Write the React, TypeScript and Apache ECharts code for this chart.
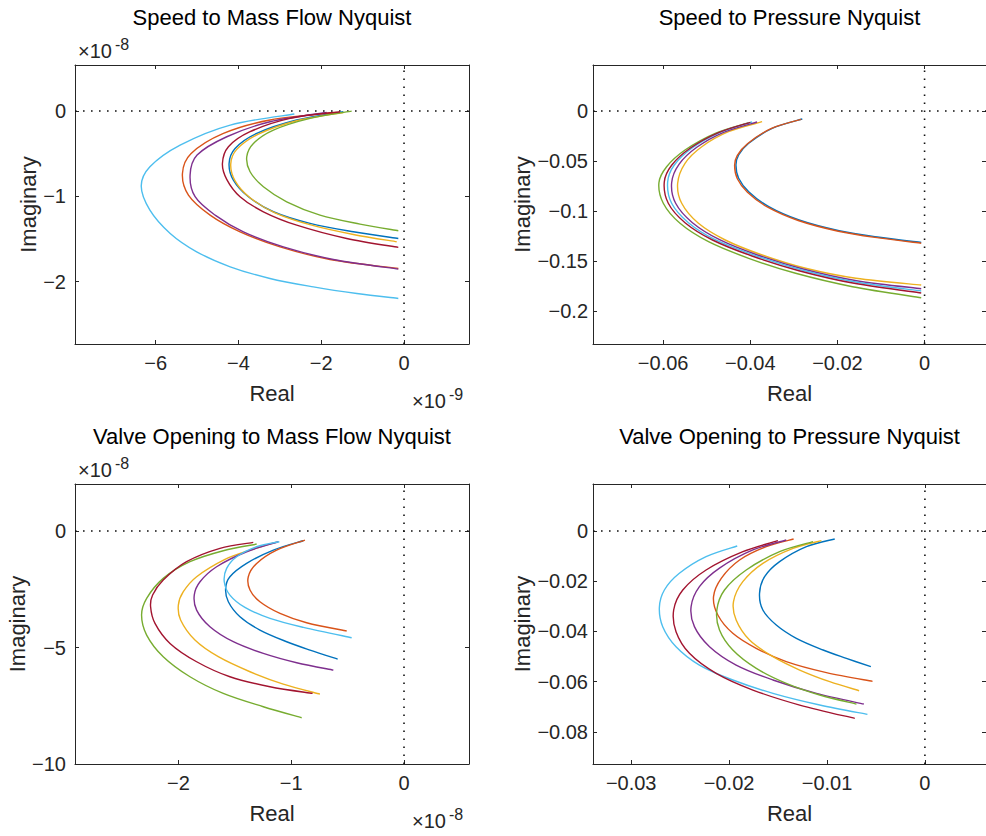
import React, { useEffect, useRef } from "react";
import * as echarts from "echarts";

const FONT = "'Liberation Sans', Arial, Helvetica, sans-serif";
const AX = "#262626";
const COLORS = ["#0072BD", "#D95319", "#EDB120", "#7E2F8E", "#77AC30", "#4DBEEE", "#A2142F"];
const SERIES_NAMES = ["Case 1", "Case 2", "Case 3", "Case 4", "Case 5", "Case 6", "Case 7"];

// ---------- Speed to Mass Flow Nyquist (Real x1e-9, Imaginary x1e-8) ----------
const SMF_BLUE = [[-1.466,-0.008],[-2.593,-0.105],[-3.559,-0.262],[-4.082,-0.438],[-4.227,-0.614],[-4.123,-0.809],[-3.76,-1.004],[-3.157,-1.18],[-2.271,-1.317],[-1.225,-1.415],[-0.138,-1.493]];
const SMF_ORANGE = [[-1.627,-0.016],[-3.237,-0.105],[-4.364,-0.262],[-5.15,-0.5],[-5.354,-0.731],[-5.209,-0.985],[-4.686,-1.219],[-3.961,-1.415],[-2.996,-1.591],[-1.788,-1.739],[-0.138,-1.845]];
const SMF_YELLOW = [[-1.466,-0.016],[-2.593,-0.113],[-3.519,-0.27],[-4.042,-0.449],[-4.187,-0.621],[-4.083,-0.817],[-3.72,-1.016],[-3.116,-1.192],[-2.231,-1.337],[-1.225,-1.446],[-0.178,-1.532]];
const SMF_PURPLE = [[-1.868,-0.016],[-3.237,-0.125],[-4.283,-0.301],[-5.0,-0.516],[-5.169,-0.75],[-5.048,-1.004],[-4.565,-1.219],[-3.881,-1.415],[-2.915,-1.591],[-1.707,-1.739],[-0.138,-1.852]];
const SMF_GREEN = [[-1.265,0],[-2.27,-0.086],[-3.156,-0.223],[-3.639,-0.379],[-3.8,-0.535],[-3.72,-0.711],[-3.398,-0.887],[-2.835,-1.063],[-2.03,-1.219],[-1.063,-1.325],[-0.138,-1.403]];
const SMF_LIGHTBLUE = [[-2.65,-0.035],[-4.2,-0.164],[-5.41,-0.399],[-6.14,-0.653],[-6.35,-0.879],[-6.14,-1.161],[-5.65,-1.434],[-5.01,-1.649],[-4.2,-1.825],[-3.24,-1.962],[-2.19,-2.06],[-1.14,-2.138],[-0.138,-2.196]];
const SMF_DARKRED = [[-1.547,-0.008],[-2.754,-0.086],[-3.72,-0.242],[-4.243,-0.418],[-4.388,-0.614],[-4.284,-0.8],[-3.962,-1.004],[-3.398,-1.18],[-2.593,-1.337],[-1.386,-1.493],[-0.138,-1.598]];
const SMF_XRANGE = [-7.95, 1.57];
const SMF_YRANGE = [-2.73, 0.54];
const SMF_XTICKS = [-6, -4, -2, 0];
const SMF_YTICKS = [-2, -1, 0];

// ---------- Speed to Pressure Nyquist ----------
const SP_BLUE = [[-0.02806,-0.008],[-0.03498,-0.0173],[-0.04036,-0.0323],[-0.04267,-0.044],[-0.04329,-0.054],[-0.04267,-0.0673],[-0.04036,-0.0807],[-0.03575,-0.0957],[-0.0288,-0.109],[-0.01961,-0.1197],[-0.01038,-0.1263],[-0.00077,-0.1315]];
const SP_ORANGE = [[-0.0283,-0.0083],[-0.03525,-0.0177],[-0.04065,-0.0327],[-0.04297,-0.0443],[-0.0436,-0.0543],[-0.04297,-0.0677],[-0.04065,-0.0812],[-0.036,-0.0962],[-0.029,-0.1095],[-0.0198,-0.1202],[-0.0105,-0.1269],[-0.00077,-0.1322]];
const SP_YELLOW = [[-0.03729,-0.0107],[-0.045,-0.0207],[-0.05113,-0.0357],[-0.05498,-0.0523],[-0.05667,-0.0723],[-0.05574,-0.0923],[-0.0519,-0.1123],[-0.04575,-0.129],[-0.03729,-0.144],[-0.02729,-0.1573],[-0.01576,-0.1673],[-0.00077,-0.174]];
const SP_PURPLE = [[-0.03844,-0.011],[-0.04613,-0.0213],[-0.05228,-0.0363],[-0.05636,-0.0533],[-0.05805,-0.0717],[-0.05713,-0.0923],[-0.05328,-0.1117],[-0.04705,-0.1287],[-0.03837,-0.144],[-0.02791,-0.158],[-0.01561,-0.1697],[-0.00077,-0.1777]];
const SP_GREEN = [[-0.04037,-0.0117],[-0.04805,-0.0223],[-0.05498,-0.039],[-0.0592,-0.0557],[-0.06097,-0.0717],[-0.05997,-0.0923],[-0.05613,-0.1123],[-0.04959,-0.1307],[-0.04037,-0.1473],[-0.0296,-0.1623],[-0.01653,-0.1757],[-0.00077,-0.1867]];
const SP_LIGHTBLUE = [[-0.0396,-0.011],[-0.0469,-0.0213],[-0.05328,-0.0367],[-0.05744,-0.054],[-0.05897,-0.071],[-0.05805,-0.0923],[-0.0542,-0.1117],[-0.04806,-0.1287],[-0.03898,-0.1443],[-0.02837,-0.1587],[-0.01576,-0.171],[-0.00077,-0.18]];
const SP_DARKRED = [[-0.03998,-0.0113],[-0.04729,-0.0217],[-0.05382,-0.0373],[-0.05805,-0.0543],[-0.05974,-0.071],[-0.05882,-0.0923],[-0.05498,-0.1117],[-0.04867,-0.129],[-0.0396,-0.145],[-0.02883,-0.1597],[-0.01615,-0.1723],[-0.00077,-0.182]];
const SP_XRANGE = [-0.0761, 0.0141];
const SP_YRANGE = [-0.233, 0.046];
const SP_XTICKS = [-0.06, -0.04, -0.02, 0];
const SP_YTICKS = [-0.2, -0.15, -0.1, -0.05, 0];

// ---------- Valve Opening to Mass Flow Nyquist (Real x1e-8, Imaginary x1e-8) ----------
const VMF_BLUE = [[-0.893,-0.415],[-1.158,-0.816],[-1.395,-1.388],[-1.543,-1.961],[-1.581,-2.461],[-1.557,-3.034],[-1.454,-3.678],[-1.277,-4.25],[-1.04,-4.751],[-0.833,-5.109],[-0.588,-5.495]];
const VMF_ORANGE = [[-0.878,-0.387],[-1.129,-0.816],[-1.306,-1.388],[-1.38,-1.961],[-1.365,-2.533],[-1.277,-3.034],[-1.099,-3.535],[-0.863,-3.935],[-0.508,-4.293]];
const VMF_YELLOW = [[-1.129,-0.472],[-1.365,-0.816],[-1.587,-1.216],[-1.838,-1.961],[-1.956,-2.605],[-2.0,-3.177],[-1.98,-3.821],[-1.853,-4.68],[-1.646,-5.395],[-1.365,-6.039],[-1.07,-6.569],[-0.745,-6.998]];
const VMF_PURPLE = [[-1.114,-0.458],[-1.395,-0.888],[-1.661,-1.532],[-1.808,-2.175],[-1.859,-2.748],[-1.838,-3.392],[-1.72,-4.107],[-1.513,-4.751],[-1.247,-5.252],[-0.951,-5.653],[-0.626,-5.968]];
const VMF_GREEN = [[-1.306,-0.558],[-1.602,-0.845],[-1.897,-1.316],[-2.134,-2.032],[-2.281,-2.891],[-2.326,-3.606],[-2.281,-4.465],[-2.134,-5.395],[-1.897,-6.254],[-1.602,-6.97],[-1.247,-7.542],[-0.907,-8.014]];
const VMF_LIGHTBLUE = [[-1.105,-0.458],[-1.306,-0.673],[-1.483,-1.102],[-1.572,-1.603],[-1.593,-2.175],[-1.543,-2.748],[-1.41,-3.277],[-1.188,-3.75],[-0.892,-4.136],[-0.464,-4.58]];
const VMF_DARKRED = [[-1.336,-0.487],[-1.631,-0.744],[-1.927,-1.316],[-2.134,-2.104],[-2.228,-2.748],[-2.246,-3.249],[-2.207,-3.964],[-2.074,-4.823],[-1.838,-5.61],[-1.543,-6.254],[-1.188,-6.683],[-0.81,-6.97]];
const VMF_XRANGE = [-2.916, 0.576];
const VMF_YRANGE = [-10, 2.02];
const VMF_XTICKS = [-2, -1, 0];
const VMF_YTICKS = [-10, -5, 0];

// ---------- Valve Opening to Pressure Nyquist ----------
const VP_BLUE = [[-0.00921,-0.00319],[-0.0121,-0.00624],[-0.01484,-0.01222],[-0.01637,-0.01819],[-0.01689,-0.02483],[-0.01655,-0.03147],[-0.01518,-0.03745],[-0.01313,-0.04276],[-0.0104,-0.04741],[-0.00802,-0.05073],[-0.00552,-0.05405]];
const VP_ORANGE = [[-0.01341,-0.00319],[-0.0162,-0.00624],[-0.01893,-0.01155],[-0.0208,-0.01886],[-0.02159,-0.02616],[-0.02115,-0.03347],[-0.01962,-0.04077],[-0.01723,-0.04675],[-0.01416,-0.05206],[-0.01006,-0.05644],[-0.00535,-0.05989]];
const VP_YELLOW = [[-0.01057,-0.00385],[-0.01347,-0.00691],[-0.01655,-0.01288],[-0.0186,-0.0202],[-0.01955,-0.02815],[-0.01928,-0.03546],[-0.01791,-0.04343],[-0.01552,-0.05007],[-0.01279,-0.05538],[-0.00972,-0.06003],[-0.00672,-0.06362]];
const VP_PURPLE = [[-0.01416,-0.00359],[-0.01757,-0.00757],[-0.02098,-0.0148],[-0.02303,-0.02218],[-0.02388,-0.03015],[-0.02354,-0.03811],[-0.022,-0.04608],[-0.01928,-0.05339],[-0.01552,-0.05936],[-0.01108,-0.06467],[-0.00624,-0.06892]];
const VP_GREEN = [[-0.01143,-0.00425],[-0.01484,-0.00824],[-0.01825,-0.01554],[-0.02047,-0.02351],[-0.02125,-0.03148],[-0.02098,-0.03944],[-0.01962,-0.04741],[-0.01722,-0.05472],[-0.01416,-0.06069],[-0.01074,-0.06534],[-0.00699,-0.06893]];
const VP_LIGHTBLUE = [[-0.01917,-0.00598],[-0.02235,-0.01023],[-0.02508,-0.01687],[-0.02661,-0.02351],[-0.02712,-0.03041],[-0.02678,-0.03811],[-0.02542,-0.04608],[-0.02303,-0.05339],[-0.01962,-0.05936],[-0.01552,-0.06467],[-0.01074,-0.06932],[-0.00587,-0.07304]];
const VP_DARKRED = [[-0.01501,-0.00385],[-0.01859,-0.00824],[-0.02235,-0.01554],[-0.02473,-0.02351],[-0.02566,-0.03148],[-0.02542,-0.04011],[-0.02405,-0.04874],[-0.02132,-0.05671],[-0.01757,-0.06335],[-0.01279,-0.06933],[-0.00716,-0.07464]];
const VP_XRANGE = [-0.0339, 0.00624];
const VP_YRANGE = [-0.0928, 0.0187];
const VP_XTICKS = [-0.03, -0.02, -0.01, 0];
const VP_YTICKS = [-0.08, -0.06, -0.04, -0.02, 0];

const PANELS = [
  {
    title: "Speed to Mass Flow Nyquist",
    grid: { left: 75, top: 65, width: 394, height: 279 },
    xr: SMF_XRANGE, yr: SMF_YRANGE, xt: SMF_XTICKS, yt: SMF_YTICKS,
    lines: [SMF_BLUE, SMF_ORANGE, SMF_YELLOW, SMF_PURPLE, SMF_GREEN, SMF_LIGHTBLUE, SMF_DARKRED],
    yLabelMargin: 9, yNameGap: 39,
  },
  {
    title: "Speed to Pressure Nyquist",
    grid: { left: 593, top: 65, width: 393, height: 279 },
    xr: SP_XRANGE, yr: SP_YRANGE, xt: SP_XTICKS, yt: SP_YTICKS,
    lines: [SP_BLUE, SP_ORANGE, SP_YELLOW, SP_PURPLE, SP_GREEN, SP_LIGHTBLUE, SP_DARKRED],
    yLabelMargin: 5, yNameGap: 70,
  },
  {
    title: "Valve Opening to Mass Flow Nyquist",
    grid: { left: 75, top: 484, width: 394, height: 280 },
    xr: VMF_XRANGE, yr: VMF_YRANGE, xt: VMF_XTICKS, yt: VMF_YTICKS,
    lines: [VMF_BLUE, VMF_ORANGE, VMF_YELLOW, VMF_PURPLE, VMF_GREEN, VMF_LIGHTBLUE, VMF_DARKRED],
    yLabelMargin: 9, yNameGap: 47,
  },
  {
    title: "Valve Opening to Pressure Nyquist",
    grid: { left: 593, top: 484, width: 393, height: 280 },
    xr: VP_XRANGE, yr: VP_YRANGE, xt: VP_XTICKS, yt: VP_YTICKS,
    lines: [VP_BLUE, VP_ORANGE, VP_YELLOW, VP_PURPLE, VP_GREEN, VP_LIGHTBLUE, VP_DARKRED],
    yLabelMargin: 5, yNameGap: 70,
  },
];

const EXPONENTS = [
  { x: 78, baseline: 58, sup: "-8" },
  { x: 412, baseline: 408, sup: "-9" },
  { x: 78, baseline: 477, sup: "-8" },
  { x: 412, baseline: 828, sup: "-8" },
];

const fmt = (v: number) => (v === 0 ? "0" : String(v).replace("-", "\u2212"));

// smooth path through pixel points (Catmull-Rom style tangents, segment-length weighted)
function smoothPath(pts: number[][]): string {
  const n = pts.length;
  if (n < 2) return "";
  const d = (a: number[], b: number[]) => Math.hypot(b[0] - a[0], b[1] - a[1]) || 1e-6;
  const tan = (i: number) => {
    const p0 = pts[Math.max(i - 1, 0)];
    const p1 = pts[Math.min(i + 1, n - 1)];
    return [p1[0] - p0[0], p1[1] - p0[1]];
  };
  let s = `M${pts[0][0]},${pts[0][1]}`;
  for (let i = 0; i < n - 1; i++) {
    const a = pts[i], b = pts[i + 1];
    const seg = d(a, b);
    const prev = i > 0 ? d(pts[i - 1], a) : seg;
    const next = i < n - 2 ? d(b, pts[i + 2]) : seg;
    const ta = tan(i), tb = tan(i + 1);
    const ka = (i > 0 ? seg / (prev + seg) : 1) * (i > 0 ? 2 / 3 : 1 / 3);
    const kb = (i < n - 2 ? seg / (seg + next) : 1) * (i < n - 2 ? 2 / 3 : 1 / 3);
    const c1 = [a[0] + ta[0] * ka * 0.5, a[1] + ta[1] * ka * 0.5];
    const c2 = [b[0] - tb[0] * kb * 0.5, b[1] - tb[1] * kb * 0.5];
    s += ` C${c1[0]},${c1[1]} ${c2[0]},${c2[1]} ${b[0]},${b[1]}`;
  }
  return s;
}

function buildOption() {
  const grid: any[] = [];
  const xAxis: any[] = [];
  const yAxis: any[] = [];
  const series: any[] = [];
  const graphic: any[] = [];
  const lineStyleAx = { color: AX, width: 1 };

  PANELS.forEach((p, i) => {
    grid.push({ ...p.grid, containLabel: false });
    const tick = (vals: number[]) => ({ show: true, inside: true, length: 4, customValues: vals, lineStyle: lineStyleAx });
    xAxis.push({
      type: "value", gridIndex: i, position: "bottom", min: p.xr[0], max: p.xr[1],
      axisLine: { show: true, onZero: false, lineStyle: lineStyleAx },
      axisTick: tick(p.xt),
      axisLabel: { show: true, customValues: p.xt, formatter: fmt, margin: 9, fontSize: 20, color: AX, fontFamily: FONT },
      splitLine: { show: false },
      name: "Real", nameLocation: "middle", nameGap: 49,
      nameTextStyle: { fontSize: 22, color: AX, fontFamily: FONT, verticalAlign: "middle", align: "center" },
    });
    xAxis.push({
      type: "value", gridIndex: i, position: "top", min: p.xr[0], max: p.xr[1],
      axisLine: { show: true, onZero: false, lineStyle: lineStyleAx },
      axisTick: tick(p.xt), axisLabel: { show: false }, splitLine: { show: false },
    });
    yAxis.push({
      type: "value", gridIndex: i, position: "left", min: p.yr[0], max: p.yr[1],
      axisLine: { show: true, onZero: false, lineStyle: lineStyleAx },
      axisTick: tick(p.yt),
      axisLabel: { show: true, customValues: p.yt, formatter: fmt, margin: p.yLabelMargin, fontSize: 20, color: AX, fontFamily: FONT },
      splitLine: { show: false },
      name: "Imaginary", nameLocation: "middle", nameGap: p.yNameGap, nameRotate: 90,
      nameTextStyle: { fontSize: 22, color: AX, fontFamily: FONT, verticalAlign: "middle", align: "center" },
    });
    yAxis.push({
      type: "value", gridIndex: i, position: "right", min: p.yr[0], max: p.yr[1],
      axisLine: { show: true, onZero: false, lineStyle: lineStyleAx },
      axisTick: tick(p.yt), axisLabel: { show: false }, splitLine: { show: false },
    });

    const xi = i * 2;
    const yi = i * 2;
    // dotted zero lines
    series.push({
      type: "line", xAxisIndex: xi, yAxisIndex: yi, silent: true, symbol: "none", z: 1,
      data: [[0, p.yr[0]], [0, p.yr[1]]],
      lineStyle: { color: "#111", width: 1.6, type: [1.6, 6.4] },
    });
    series.push({
      type: "line", xAxisIndex: xi, yAxisIndex: yi, silent: true, symbol: "none", z: 1,
      data: [[p.xr[0], 0], [p.xr[1], 0]],
      lineStyle: { color: "#111", width: 1.6, type: [1.6, 6.4] },
    });
    p.lines.forEach((d, k) => {
      const color = COLORS[k];
      series.push({
        name: SERIES_NAMES[k], type: "custom", xAxisIndex: xi, yAxisIndex: yi, z: 2,
        coordinateSystem: "cartesian2d", clip: true, silent: true,
        encode: { x: 0, y: 1 },
        data: d,
        renderItem: (params: any, api: any) => {
          if (params.dataIndex !== 0) return null;
          const pts = d.map((pt) => api.coord(pt));
          return {
            type: "path",
            shape: { pathData: smoothPath(pts) },
            style: { stroke: color, fill: "none", lineWidth: 1.4 },
          };
        },
      });
    });

    const cx = p.grid.left + p.grid.width / 2;
    graphic.push({
      type: "text", x: cx, y: p.grid.top - 47.5,
      style: { text: p.title, fontSize: 22, fontFamily: FONT, fill: "#000", align: "center", verticalAlign: "middle" },
    });
  });

  EXPONENTS.forEach((e) => {
    graphic.push({
      type: "text", x: e.x, y: e.baseline - 7,
      style: { text: "\u00d710", fontSize: 20, fontFamily: FONT, fill: AX, align: "left", verticalAlign: "middle" },
    });
    graphic.push({
      type: "text", x: e.x + 37, y: e.baseline - 13.5,
      style: { text: e.sup, fontSize: 16, fontFamily: FONT, fill: AX, align: "left", verticalAlign: "middle" },
    });
  });

  return {
    animation: false,
    backgroundColor: "#fff",
    textStyle: { fontFamily: FONT },
    grid, xAxis, yAxis, series, graphic,
  };
}

export default function App() {
  const ref = useRef<HTMLDivElement>(null);
  useEffect(() => {
    if (!ref.current) return;
    const chart = echarts.init(ref.current, undefined, { renderer: "svg", width: 986, height: 836 });
    chart.setOption(buildOption() as any);
    return () => chart.dispose();
  }, []);
  return (
    <div
      ref={ref}
      style={{ position: "absolute", left: 0, top: 0, width: 986, height: 836, background: "#fff" }}
    />
  );
}
